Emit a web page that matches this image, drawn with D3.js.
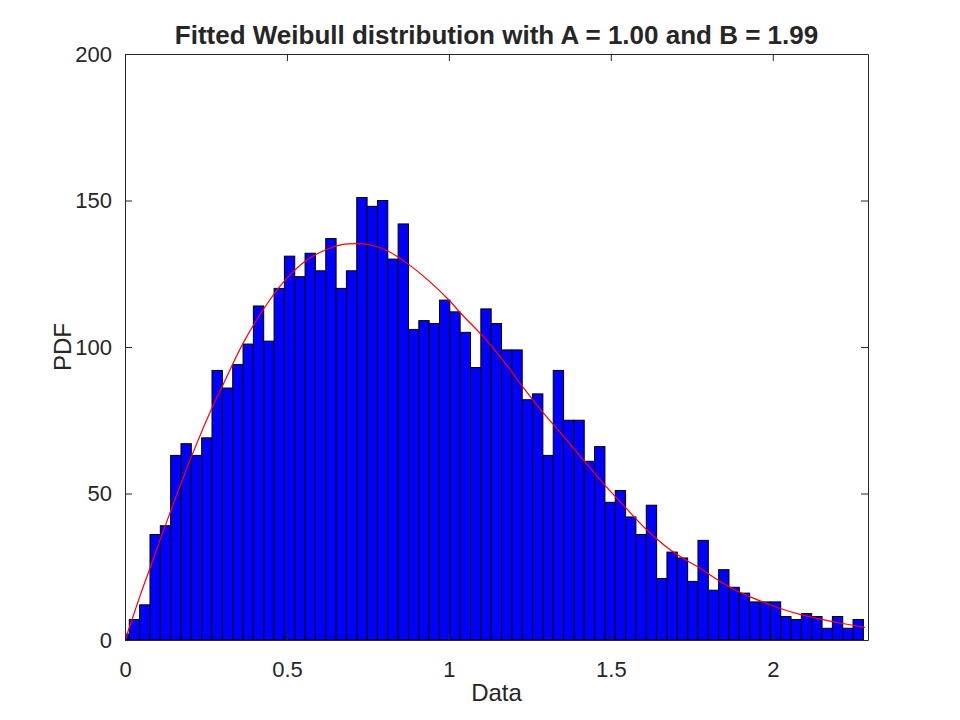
<!DOCTYPE html>
<html>
<head>
<meta charset="utf-8">
<script src="https://cdn.jsdelivr.net/npm/d3@7"></script>
<style>
  html, body { margin: 0; padding: 0; background: #fff; }
  svg { display: block; }
  text { font-family: "Liberation Sans", Arial, Helvetica, sans-serif; fill: #262626; }
</style>
</head>
<body>
<svg id="chart" width="960" height="720"></svg>
<script>
// ---- data ----
const titleText = "Fitted Weibull distribution with A = 1.00 and B = 1.99";
const xLabel = "Data";
const yLabel = "PDF";

const xTicks = [0, 0.5, 1, 1.5, 2];
const xTickLabels = ["0", "0.5", "1", "1.5", "2"];
const yTicks = [0, 50, 100, 150, 200];
const yTickLabels = ["0", "50", "100", "150", "200"];

const xDomain = [0, 2.294];
const yDomain = [0, 200];

const binWidth = 0.031923;
const binCenters = [
  -0.0027, 0.0292, 0.0612, 0.0931, 0.1250, 0.1569, 0.1888, 0.2208, 0.2527, 0.2846,
  0.3165, 0.3485, 0.3804, 0.4123, 0.4442, 0.4762, 0.5081, 0.5400, 0.5719, 0.6038,
  0.6358, 0.6677, 0.6996, 0.7315, 0.7635, 0.7954, 0.8273, 0.8592, 0.8912, 0.9231,
  0.9550, 0.9869, 1.0188, 1.0508, 1.0827, 1.1146, 1.1465, 1.1785, 1.2104, 1.2423,
  1.2742, 1.3062, 1.3381, 1.3700, 1.4019, 1.4338, 1.4658, 1.4977, 1.5296, 1.5615,
  1.5935, 1.6254, 1.6573, 1.6892, 1.7212, 1.7531, 1.7850, 1.8169, 1.8488, 1.8808,
  1.9127, 1.9446, 1.9765, 2.0085, 2.0404, 2.0723, 2.1042, 2.1362, 2.1681, 2.2000,
  2.2319, 2.2638
];
const binCounts = [
  2, 7, 12, 36, 39, 63, 67, 63, 69, 92,
  86, 94, 101, 114, 102, 120, 131, 124, 132, 126,
  137, 120, 126, 151, 148, 150, 130, 142, 106, 109,
  108, 116, 112, 105, 93, 113, 108, 99, 99, 82,
  84, 63, 92, 75, 75, 61, 66, 47, 51, 42,
  36, 46, 21, 30, 28, 20, 34, 17, 24, 18,
  16, 13, 13, 13, 8, 7, 9, 8, 4, 8,
  4, 7
];

// fitted curve, points
const fitX = [0, 0.0052, 0.0472, 0.0772, 0.1389, 0.2059, 0.2664, 0.2985, 0.3627, 0.4306,
  0.4917, 0.5565, 0.6219, 0.6728, 0.7150, 0.7562, 0.8127, 0.8756, 0.9392, 1.0031,
  1.0349, 1.0997, 1.1318, 1.1883, 1.2258, 1.2909, 1.3537, 1.4176, 1.4836, 1.5454,
  1.6090, 1.6738, 1.7367, 1.7747, 1.8231, 1.8880, 1.9528, 2.0145, 2.0781, 2.1441,
  2.2059, 2.2849];
const fitY = [0, 1.6, 15.3, 24.5, 43.4, 62.8, 78.7, 86.1, 100.9, 113.4,
  122.5, 129.3, 133.3, 135.0, 135.3, 134.9, 132.7, 128.2, 122.5, 115.7,
  111.7, 104.3, 100.3, 92.4, 86.7, 77.6, 69.6, 61.1, 52.6, 45.2,
  37.8, 31.6, 27.0, 24.6, 21.0, 16.8, 13.7, 11.1, 8.9, 7.2,
  5.8, 4.3];

// ---- layout ----
const plot = { left: 125, right: 868, top: 54, bottom: 640 };
const axisColor = "#262626";

const svg = d3.select("#chart");
const x = d3.scaleLinear().domain(xDomain).range([plot.left, plot.right]);
const y = d3.scaleLinear().domain(yDomain).range([plot.bottom, plot.top]);

svg.append("defs").append("clipPath").attr("id", "clip")
  .append("rect")
  .attr("x", plot.left).attr("y", plot.top)
  .attr("width", plot.right - plot.left).attr("height", plot.bottom - plot.top);

const bins = binCenters.map((c, i) => ({ c, n: binCounts[i] }));

const g = svg.append("g").attr("clip-path", "url(#clip)");

g.selectAll("rect.bar").data(bins).enter().append("rect")
  .attr("class", "bar")
  .attr("x", d => x(d.c - binWidth / 2))
  .attr("width", d => x(d.c + binWidth / 2) - x(d.c - binWidth / 2))
  .attr("y", d => y(d.n))
  .attr("height", d => y(0) - y(d.n))
  .attr("fill", "#0000ff")
  .attr("stroke", "#000")
  .attr("stroke-width", 1);

const fit = fitX.map((v, i) => [v, fitY[i]]);
g.append("path")
  .datum(fit)
  .attr("fill", "none")
  .attr("stroke", "#ff0000")
  .attr("stroke-width", 1.2)
  .attr("d", d3.line().x(d => x(d[0])).y(d => y(d[1])).curve(d3.curveCatmullRom.alpha(0.5)));

// ---- axes (box with inward ticks on all sides) ----
const tickLen = 7;
const fmtX = d => xTickLabels[xTicks.indexOf(d)];
const fmtY = d => yTickLabels[yTicks.indexOf(d)];

function styleAxis(sel) {
  sel.select(".domain").attr("stroke", axisColor).attr("stroke-width", 1);
  sel.selectAll(".tick line").attr("stroke", axisColor).attr("stroke-width", 1);
}

const axB = svg.append("g").attr("transform", `translate(0,${plot.bottom})`)
  .call(d3.axisBottom(x).tickValues(xTicks).tickFormat(fmtX).tickSizeInner(-tickLen).tickSizeOuter(0));
styleAxis(axB);
axB.selectAll("text").attr("font-size", 22).attr("fill", axisColor).attr("y", 37).attr("dy", 0);

const axT = svg.append("g").attr("transform", `translate(0,${plot.top})`)
  .call(d3.axisTop(x).tickValues(xTicks).tickFormat("").tickSizeInner(-tickLen).tickSizeOuter(0));
styleAxis(axT);

const axL = svg.append("g").attr("transform", `translate(${plot.left},0)`)
  .call(d3.axisLeft(y).tickValues(yTicks).tickFormat(fmtY).tickSizeInner(-tickLen).tickSizeOuter(0).tickPadding(13));
styleAxis(axL);
axL.selectAll("text").attr("font-size", 22).attr("fill", axisColor);

const axR = svg.append("g").attr("transform", `translate(${plot.right},0)`)
  .call(d3.axisRight(y).tickValues(yTicks).tickFormat("").tickSizeInner(-tickLen).tickSizeOuter(0));
styleAxis(axR);

// ---- labels ----
const cx = (plot.left + plot.right) / 2;
svg.append("text").attr("x", cx).attr("y", 44).attr("text-anchor", "middle")
  .attr("font-size", 26).attr("font-weight", "bold").attr("fill", "#000").text(titleText);

svg.append("text").attr("x", cx).attr("y", 701).attr("text-anchor", "middle")
  .attr("font-size", 24).text(xLabel);

svg.append("text").attr("transform", `translate(71,${(plot.top + plot.bottom) / 2}) rotate(-90)`)
  .attr("text-anchor", "middle").attr("font-size", 24).text(yLabel);
</script>
</body>
</html>
